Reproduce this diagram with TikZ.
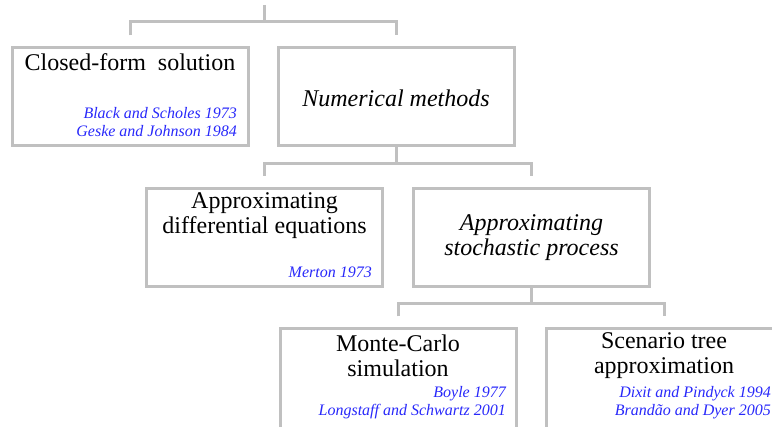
\documentclass[tikz,border=0pt]{standalone}
\usepackage{fontspec}
\setmainfont{Liberation Serif}
\definecolor{linegray}{RGB}{192,192,192}
\definecolor{refblue}{RGB}{40,40,250}
\tikzset{>=stealth,
  box/.style={draw=linegray, line width=3pt, minimum width=236pt, minimum height=98pt, inner sep=0pt},
  link/.style={draw=linegray, line width=3pt},
  head/.style={align=center, font=\fontsize{24}{25}\selectfont, inner sep=0pt},
  refs/.style={align=right, anchor=east, text=refblue, font=\fontsize{16}{18}\selectfont\itshape, inner sep=0pt}}

\begin{document}
\begin{tikzpicture}[x=1pt,y=-1pt]
     \useasboundingbox (0,0) rectangle (772,427);
     \clip (0,0) rectangle (772,427);
     % boxes
     \node[box] (cf) at (130,97) {};
     \node[box] (num) at (396,97) {};
     \node[box] (diff) at (264.5,237.5) {};
     \node[box] (stoch) at (531.5,237.5) {};
     \node[box, minimum height=102pt] (mc) at (398,380) {};
     \node[box, minimum height=102pt] (st) at (664,380) {};
     % connectors
     \coordinate (root) at (264,5);
     \coordinate (bar1) at (264,22);
     \draw[link] (root) -- (bar1);
     \draw[link] ([yshift=11pt]cf.north) |- (bar1) -| ([yshift=11pt]num.north);
     \draw[link] (num.south) -- ++(0,16) coordinate (bar2);
     \draw[link] ([yshift=11pt]diff.north) |- (bar2) -| ([yshift=11pt]stoch.north);
     \draw[link] (stoch.south) -- ++(0,16) coordinate (bar3);
     \draw[link] ([yshift=11pt]mc.north) |- (bar3) -| ([yshift=11pt]st.north);
     % texts
     \node[head] (cfT) at (130,62) {Closed-form\ \ solution};
     \node[refs] (cfR) at (237,122) {Black and Scholes 1973\\Geske and Johnson 1984};
     \node[head, font=\fontsize{24}{25}\selectfont\itshape] (numT) at (396,98) {Numerical methods};
     \node[head] (diffT) at (264.5,215.5) {Approximating\\differential equations};
     \node[refs] (diffR) at (372,272) {Merton 1973};
     \node[head, font=\fontsize{24}{25}\selectfont\itshape] (stochT) at (531.5,237.5) {Approximating\\stochastic process};
     \node[head] (mcT) at (398,355.5) {Monte-Carlo\\simulation};
     \node[refs] (mcR) at (506,403) {Boyle 1977\\Longstaff and Schwartz 2001};
     \node[head] (stT) at (664,355.5) {Scenario tree\\approximation};
     \node[refs] (stR) at (771,403) {Dixit and Pindyck 1994\\Brandão and Dyer 2005};
\end{tikzpicture}
\end{document}
